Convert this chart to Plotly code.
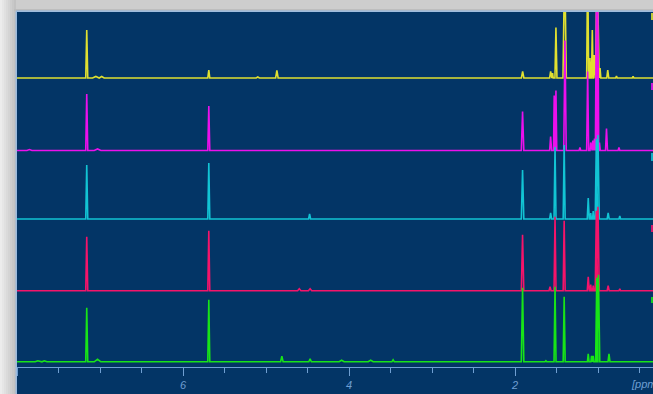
import plotly.graph_objects as go

# ---------------- data ----------------
# Peak lists per spectrum: chemical shift (ppm), height (intensity units), half line width (ppm)
YELLOW_PPM = [7.16, 7.05, 6.98, 5.69, 5.10, 4.87, 1.91, 1.573, 1.55, 1.509, 1.404, 1.127, 1.099, 1.071, 1.047, 1.014, 0.978, 0.885, 0.78, 0.58]
YELLOW_H   = [48, 1.5, 1.5, 8, 1, 7.5, 6.5, 6.6, 5, 50.6, 120, 120, 20, 48, 23, 120, 10, 8, 2, 1.5]
YELLOW_W   = [0.012, 0.04, 0.03, 0.012, 0.02, 0.015, 0.015, 0.012, 0.008, 0.012, 0.02, 0.012, 0.008, 0.01, 0.008, 0.018, 0.01, 0.012, 0.01, 0.01]

MAGENTA_PPM = [7.85, 7.16, 7.03, 5.69, 1.911, 1.573, 1.53, 1.509, 1.40, 1.22, 1.127, 1.09, 1.065, 1.045, 1.022, 1.005, 0.985, 0.90, 0.75]
MAGENTA_H   = [1, 56.5, 1.5, 44.5, 39, 14, 55, 60, 110, 3, 79, 8, 10, 12, 150, 150, 8, 22, 3]
MAGENTA_W   = [0.03, 0.012, 0.04, 0.012, 0.015, 0.012, 0.008, 0.01, 0.015, 0.01, 0.012, 0.008, 0.008, 0.008, 0.012, 0.012, 0.01, 0.012, 0.01]

CYAN_PPM = [7.16, 5.69, 4.476, 1.911, 1.573, 1.52, 1.41, 1.12, 1.09, 1.06, 1.022, 1.003, 0.88, 0.74]
CYAN_H   = [54, 56, 5, 49, 6, 72, 74, 21, 6, 8, 80, 84, 6, 3]
CYAN_W   = [0.012, 0.012, 0.012, 0.015, 0.012, 0.012, 0.012, 0.012, 0.008, 0.008, 0.014, 0.016, 0.012, 0.01]

RED_PPM = [7.16, 5.69, 4.60, 4.47, 1.911, 1.58, 1.52, 1.41, 1.12, 1.09, 1.06, 1.022, 1.003, 0.88, 0.74]
RED_H   = [54, 60, 2, 2, 56, 4, 74, 70, 14, 6, 5, 80, 84, 5, 2]
RED_W   = [0.012, 0.012, 0.02, 0.02, 0.015, 0.012, 0.012, 0.012, 0.012, 0.008, 0.008, 0.014, 0.016, 0.012, 0.01]

GREEN_PPM = [7.75, 7.67, 7.16, 7.03, 5.69, 4.81, 4.47, 4.09, 3.74, 3.47, 1.911, 1.63, 1.52, 1.41, 1.12, 1.08, 1.06, 1.017, 0.997, 0.87]
GREEN_H   = [1, 1, 54, 2.5, 62, 5.5, 3, 1.5, 1.5, 2, 74, 1, 75, 65, 8, 6, 6, 84, 87, 8]
GREEN_W   = [0.03, 0.03, 0.012, 0.04, 0.012, 0.015, 0.015, 0.03, 0.03, 0.015, 0.015, 0.01, 0.012, 0.012, 0.01, 0.008, 0.008, 0.014, 0.016, 0.012]

TICK_VALS = [8, 6, 4, 2]
TICK_TEXT = ["", "6", "4", "2"]
AXIS_TITLE = "[ppm]"

# ---------------- layout constants ----------------
X_LEFT, X_RIGHT = 8.0, 0.34
W, H = 653, 394
ML, MT, MB = 17, 12, 27
PLOT_H = H - MT - MB           # 355
BG = "#033566"
AX = "#6f9fd2"

# vertical stacking offsets (pixels above the axis line)
SERIES = [
    ("yellow",  YELLOW_PPM,  YELLOW_H,  YELLOW_W,  "#e0e030", 289),
    ("magenta", MAGENTA_PPM, MAGENTA_H, MAGENTA_W, "#ec10ec", 216.5),
    ("cyan",    CYAN_PPM,    CYAN_H,    CYAN_W,    "#12c4d4", 148),
    ("red",     RED_PPM,     RED_H,     RED_W,     "#f5146a", 76.3),
    ("green",   GREEN_PPM,   GREEN_H,   GREEN_W,   "#18e418", 5.2),
]


def build(ppm, hts, wid, off):
    pk = sorted(zip(ppm, hts, wid), key=lambda t: -t[0])
    xs, ys = [X_LEFT], [off]
    for p, h, w in pk:
        xs += [p + w, p, p - w]
        ys += [off, off + h, off]
    xs.append(X_RIGHT)
    ys.append(off)
    return xs, ys


fig = go.Figure()
for name, ppm, hts, wid, col, off in SERIES:
    xs, ys = build(ppm, hts, wid, off)
    fig.add_trace(go.Scatter(x=xs, y=ys, mode="lines", name=name,
                             line=dict(color=col, width=1.6), hoverinfo="skip"))

shapes = []
# dark area under axis
shapes.append(dict(type="rect", xref="paper", yref="paper", x0=0, x1=1.01,
                   y0=-MB / PLOT_H - 0.01, y1=0, fillcolor=BG, line=dict(width=0), layer="below"))
# left grey gradient strip
grays = ["#ececec", "#e6e6e6", "#e0e0e0", "#dadada", "#d4d4d4", "#cecece", "#c8c8c8", "#c2c2c2"]
for i, g in enumerate(grays):
    shapes.append(dict(type="rect", xref="paper", yref="paper",
                       x0=(i * 2 - ML) / (W - ML), x1=(i * 2 + 2 - ML) / (W - ML),
                       y0=-MB / PLOT_H - 0.01, y1=1 + MT / PLOT_H + 0.01,
                       fillcolor=g, line=dict(width=0), layer="below"))
# top strip
shapes.append(dict(type="rect", xref="paper", yref="paper", x0=-ML / (W - ML) + 14 / (W - ML), x1=1.01,
                   y0=1 + 1 / PLOT_H, y1=1 + 3 / PLOT_H, fillcolor="#bdbdbd", line=dict(width=0), layer="below"))
# light frame lines
shapes.append(dict(type="line", xref="paper", yref="paper", x0=-0.8 / (W - ML), x1=-0.8 / (W - ML),
                   y0=-MB / PLOT_H - 0.01, y1=1 + 0.8 / PLOT_H, line=dict(color="#8fb6e2", width=1.2)))
shapes.append(dict(type="line", xref="paper", yref="paper", x0=-0.8 / (W - ML), x1=1.01,
                   y0=1 + 0.8 / PLOT_H, y1=1 + 0.8 / PLOT_H, line=dict(color="#8fb6e2", width=1.2)))
# legend colour chips at right edge
for (name, ppm, hts, wid, col, off), (ytop, ybot) in zip(SERIES, [(13, 20), (83, 90), (153, 161), (225, 232), (297, 303)]):
    shapes.append(dict(type="rect", xref="paper", yref="paper",
                       x0=(651 - ML) / (W - ML), x1=(660 - ML) / (W - ML),
                       y0=(H - MB - ybot) / PLOT_H, y1=(H - MB - ytop) / PLOT_H,
                       fillcolor=col, line=dict(width=0), opacity=0.85))

fig.update_layout(
    width=W, height=H,
    margin=dict(l=ML, r=0, t=MT, b=MB, pad=0),
    paper_bgcolor="#cdcdcd",
    plot_bgcolor=BG,
    showlegend=False,
    shapes=shapes,
    xaxis=dict(range=[X_LEFT, X_RIGHT], showgrid=False, zeroline=False,
               showline=True, linecolor=AX, linewidth=1,
               ticks="outside", ticklen=8, tickwidth=1, tickcolor=AX,
               tickvals=TICK_VALS, ticktext=TICK_TEXT,
               tickfont=dict(family="Liberation Sans, Arial", size=11, color=AX, style="italic"),
               minor=dict(dtick=0.5, tick0=0, ticks="outside", ticklen=5, tickcolor=AX, tickwidth=1, showgrid=False),
               fixedrange=True),
    yaxis=dict(range=[0, PLOT_H], visible=False, fixedrange=True),
    annotations=[dict(text=AXIS_TITLE, xref="paper", yref="paper",
                      x=(629 - ML) / (W - ML), y=-17 / PLOT_H, xanchor="left", yanchor="middle",
                      showarrow=False, font=dict(family="Liberation Sans, Arial", size=11, color=AX, style="italic"))],
)

fig.write_html("out.html", config={"displayModeBar": False},
               post_script="document.body.style.margin='0px';document.body.style.overflow='hidden';")
